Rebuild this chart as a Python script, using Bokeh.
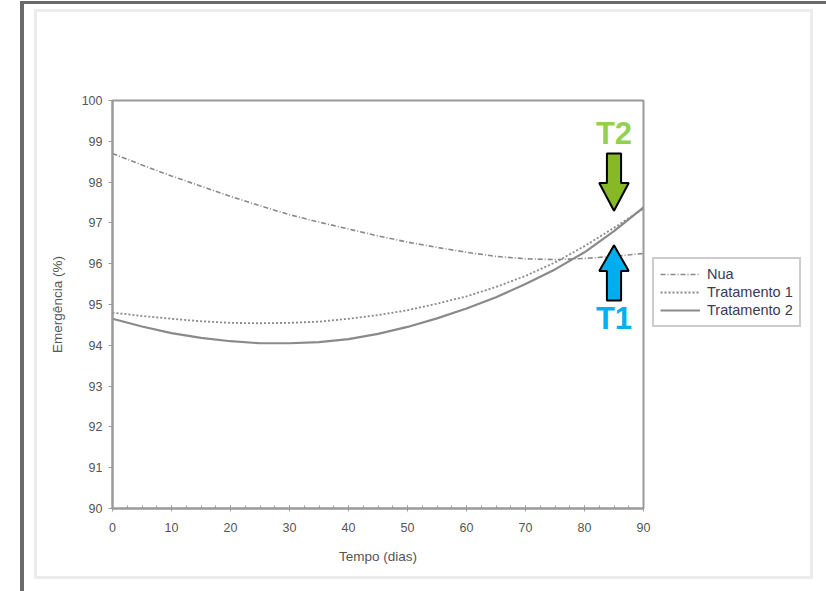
from bokeh.plotting import figure
from bokeh.models import (Range1d, Legend, LegendItem, FixedTicker,
                          InlineStyleSheet)
from bokeh.core.properties import value
from bokeh.embed import file_html
from bokeh.resources import INLINE

# ---- data ----
dias = [0, 5, 10, 15, 20, 25, 30, 35, 40, 45, 50, 55, 60, 65, 70, 75, 80, 85, 90]
nua = [98.7, 98.42, 98.15, 97.9, 97.65, 97.42, 97.2, 97.02, 96.85, 96.68,
       96.53, 96.4, 96.28, 96.18, 96.12, 96.1, 96.13, 96.18, 96.25]
trat1 = [94.8, 94.72, 94.65, 94.59, 94.55, 94.54, 94.55, 94.58, 94.65, 94.74,
         94.86, 95.02, 95.2, 95.43, 95.7, 96.03, 96.43, 96.88, 97.35]
trat2 = [94.65, 94.46, 94.3, 94.18, 94.1, 94.05, 94.05, 94.08, 94.15, 94.28,
         94.45, 94.66, 94.9, 95.18, 95.5, 95.86, 96.28, 96.8, 97.38]
x_ticks = [0, 10, 20, 30, 40, 50, 60, 70, 80, 90]
y_ticks = [90, 91, 92, 93, 94, 95, 96, 97, 98, 99, 100]
series_names = ["Nua", "Tratamento 1", "Tratamento 2"]

# annotation arrows: x position, tip, head base, tail (y values)
t2_arrow = dict(x=85, tip=97.3, base=97.98, tail=98.7, label_y=99.2, text="T2")
t1_arrow = dict(x=85, tip=96.45, base=95.82, tail=95.1, label_y=94.66, text="T1")

FONT = "Liberation Sans"
TXT = "#555555"

p = figure(frame_width=531, frame_height=408, output_backend="svg",
           toolbar_location=None,
           x_range=Range1d(0, 90), y_range=Range1d(90, 100),
           min_border_left=112, min_border_right=0, min_border_top=100,
           min_border_bottom=81)
p.background_fill_color = "white"
p.border_fill_color = "white"
p.grid.visible = False
p.outline_line_color = "#9a9a9a"
p.outline_line_width = 2

# axes
p.xaxis.ticker = FixedTicker(ticks=x_ticks,
                             minor_ticks=[i * 2.5 for i in range(37)])
p.yaxis.ticker = FixedTicker(ticks=y_ticks, minor_ticks=[])
for ax in (p.xaxis[0], p.yaxis[0]):
    ax.axis_line_color = "#9a9a9a"
    ax.axis_line_width = 2
    ax.major_tick_line_color = "#9a9a9a"
    ax.minor_tick_line_color = "#9a9a9a"
    ax.major_label_text_font = FONT
    ax.major_label_text_font_size = "12.5px"
    ax.major_label_text_color = TXT
    ax.axis_label_text_font = FONT
    ax.axis_label_text_font_size = "13.5px"
    ax.axis_label_text_font_style = "normal"
    ax.axis_label_text_color = TXT
p.xaxis.major_tick_in = 3
p.xaxis.major_tick_out = 3
p.xaxis.minor_tick_in = 3
p.xaxis.minor_tick_out = 0
p.xaxis.major_label_standoff = 11
p.xaxis.axis_label = "Tempo (dias)"
p.xaxis.axis_label_standoff = 14
p.yaxis.major_tick_in = 0
p.yaxis.major_tick_out = 4
p.yaxis.major_label_standoff = 6
p.yaxis.axis_label = "Emergência (%)"
p.yaxis.axis_label_standoff = 14

# series
r_nua = p.line(dias, nua, line_color="#8a8a8a", line_width=1.6, line_dash="5 2 1 2")
r_t1 = p.line(dias, trat1, line_color="#8a8a8a", line_width=1.8, line_dash="2 2")
r_t2 = p.line(dias, trat2, line_color="#8a8a8a", line_width=2.2)

legend = Legend(items=[LegendItem(label=series_names[0], renderers=[r_nua]),
                       LegendItem(label=series_names[1], renderers=[r_t1]),
                       LegendItem(label=series_names[2], renderers=[r_t2])],
                location=(9, 181), orientation="vertical")
legend.label_text_font = FONT
legend.label_text_font_size = "14.5px"
legend.label_text_color = "#3a3a55"
legend.label_height = 18
legend.glyph_height = 18
legend.glyph_width = 40
legend.spacing = 0
legend.margin = 0
legend.border_line_color = "#9a9a9a"
legend.border_line_width = 2
legend.background_fill_color = "white"
legend.label_standoff = 7
legend.padding = 6
p.add_layout(legend, "right")


def block_arrow(a, fill):
    hw_head, hw_shaft = 2.5, 1.2
    xs = [a["x"] - hw_shaft, a["x"] + hw_shaft, a["x"] + hw_shaft,
          a["x"] + hw_head, a["x"], a["x"] - hw_head, a["x"] - hw_shaft]
    ys = [a["tail"], a["tail"], a["base"], a["base"], a["tip"], a["base"], a["base"]]
    p.patch(xs, ys, fill_color=fill, line_color="black", line_width=2)


block_arrow(t2_arrow, "#86b925")
block_arrow(t1_arrow, "#00aeef")
p.text(x=[t2_arrow["x"]], y=[t2_arrow["label_y"]], text=[t2_arrow["text"]],
       text_font=value(FONT), text_font_size="31px", text_font_style="bold",
       text_color="#92d050", text_align="center", text_baseline="middle")
p.text(x=[t1_arrow["x"]], y=[t1_arrow["label_y"]], text=[t1_arrow["text"]],
       text_font=value(FONT), text_font_size="31px", text_font_style="bold",
       text_color="#00b0f0", text_align="center", text_baseline="middle")

# screenshot frame decoration, drawn with CSS pseudo-elements (no layout effect)
p.stylesheets = [InlineStyleSheet(css="""
:host { position: relative; }
:host::before { content: ""; position: absolute; left: 20px; top: 1px;
  width: 806px; height: 590px; border-left: 4px solid #6a6a6a;
  border-top: 3px solid #6a6a6a; pointer-events: none; z-index: 5;
  box-sizing: border-box; }
:host::after { content: ""; position: absolute; left: 34px; top: 9px;
  width: 779px; height: 570px; border: 3px solid #ececec; pointer-events: none;
  z-index: 5; box-sizing: border-box; }
""")]

open("out.html", "w").write(file_html(p, INLINE))
